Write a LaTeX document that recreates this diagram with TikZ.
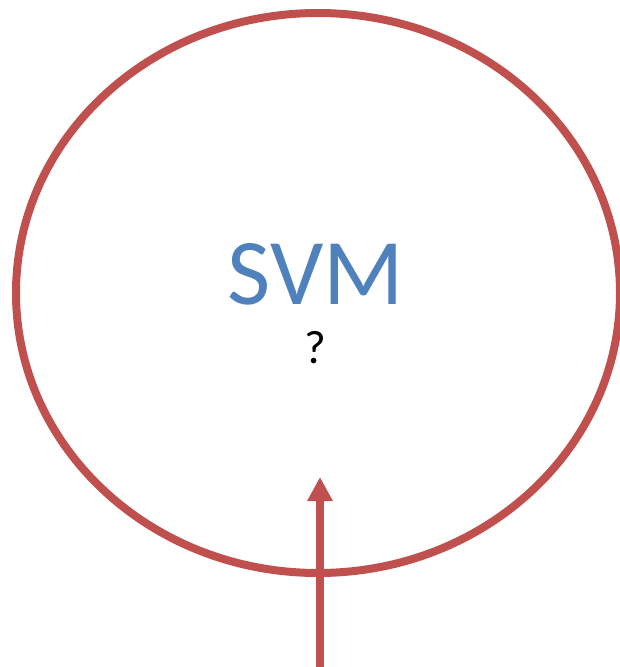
\documentclass[tikz,border=0pt]{standalone}
\usepackage{fontspec}
\setmainfont{Carlito}
\usetikzlibrary{arrows.meta,shapes.geometric}
\definecolor{svmred}{HTML}{C0504D}
\definecolor{svmblue}{HTML}{4F81BD}
\tikzset{
  ring/.style={draw=svmred, line width=8pt, ellipse, inner sep=0pt, minimum width=604pt, minimum height=560pt},
  uparrow/.style={draw=svmred, line width=7.5pt, -{Triangle[length=24pt,width=24pt]}},
  title/.style={text=svmblue, font=\fontsize{94}{100}\selectfont, anchor=base, inner sep=0pt},
  qmark/.style={text=black, font=\fontsize{47}{50}\selectfont, anchor=base, inner sep=0pt}
}
\begin{document}
\begin{tikzpicture}[x=1pt,y=-1pt]
\useasboundingbox (0,0) rectangle (619,667);
\node[ring] (ov) at (318,293) {};
\node[title] (svm) at (316,304) {SVM};
\node[qmark] (q) at (315,363) {?};
\coordinate (start) at (320,667);
\coordinate (tip) at (320,477);
\draw[uparrow] (start) -- (tip);
\end{tikzpicture}
\end{document}
